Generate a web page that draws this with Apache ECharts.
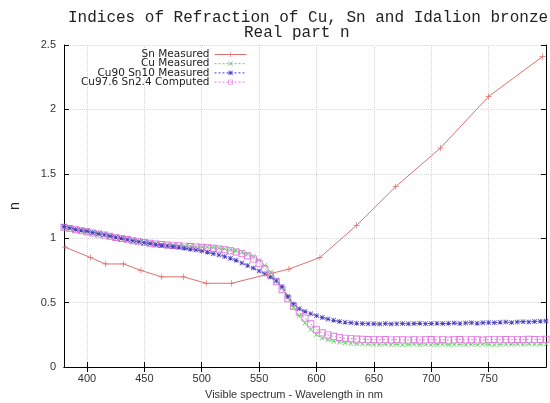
<!DOCTYPE html>
<html><head><meta charset="utf-8">
<script src="https://cdn.jsdelivr.net/npm/echarts@6/dist/echarts.min.js"></script>
<style>html,body{margin:0;padding:0;background:#fff}#c{width:550px;height:403px}</style>
</head><body><div id="c"></div>
<script>
// ---- data ----
const WL = [380,385,390,395,400,405,410,415,420,425,430,435,440,445,450,455,460,465,470,475,
  480,485,490,495,500,505,510,515,520,525,530,535,540,545,550,555,560,565,570,575,
  580,585,590,595,600,605,610,615,620,625,630,635,640,645,650,655,660,665,670,675,
  680,685,690,695,700,705,710,715,720,725,730,735,740,745,750,755,760,765,770,775,
  780,785,790,795,800];
const SN_WL = [381,403,416,432,447,465,484,504,526,576,603,635,669,708,750,797];
const SN_N  = [0.93,0.85,0.80,0.80,0.75,0.70,0.70,0.65,0.65,0.76,0.85,1.10,1.40,1.70,2.10,2.41];
const CU_N = [1.080,1.071,1.063,1.055,1.047,1.039,1.030,1.022,1.013,1.005,0.997,0.988,0.980,0.972,0.966,0.960,0.955,0.951,0.948,0.945,
  0.942,0.940,0.938,0.936,0.934,0.932,0.928,0.923,0.918,0.912,0.903,0.892,0.877,0.857,0.828,0.788,0.738,0.680,0.612,0.538,
  0.462,0.398,0.342,0.292,0.250,0.226,0.210,0.199,0.192,0.187,0.183,0.180,0.178,0.176,0.175,0.174,0.176,0.173,0.175,0.172,
  0.174,0.176,0.173,0.175,0.172,0.174,0.176,0.173,0.175,0.174,0.172,0.175,0.173,0.176,0.174,0.172,0.175,0.177,0.174,0.176,
  0.175,0.178,0.176,0.177,0.178];
const CU90_N = [1.090,1.080,1.070,1.062,1.055,1.045,1.035,1.027,1.018,1.008,1.000,0.990,0.980,0.972,0.965,0.958,0.952,0.946,0.940,0.935,
  0.930,0.922,0.915,0.908,0.900,0.890,0.880,0.870,0.858,0.845,0.828,0.808,0.788,0.768,0.745,0.722,0.698,0.668,0.625,0.550,
  0.490,0.452,0.430,0.413,0.398,0.385,0.372,0.362,0.354,0.348,0.343,0.340,0.338,0.336,0.335,0.334,0.337,0.334,0.336,0.338,
  0.335,0.337,0.339,0.336,0.338,0.340,0.337,0.339,0.341,0.338,0.342,0.344,0.340,0.343,0.346,0.344,0.347,0.349,0.346,0.350,
  0.352,0.350,0.354,0.356,0.358];
const CU976_N = [1.085,1.075,1.066,1.058,1.050,1.041,1.032,1.024,1.015,1.006,0.998,0.989,0.980,0.972,0.966,0.960,0.955,0.951,0.947,0.944,
  0.941,0.938,0.935,0.932,0.929,0.926,0.922,0.917,0.911,0.903,0.893,0.880,0.862,0.838,0.805,0.762,0.715,0.662,0.600,0.530,
  0.472,0.425,0.380,0.335,0.290,0.265,0.249,0.238,0.230,0.224,0.220,0.217,0.215,0.213,0.212,0.211,0.213,0.210,0.212,0.211,
  0.209,0.212,0.210,0.211,0.213,0.210,0.212,0.209,0.211,0.213,0.210,0.212,0.211,0.209,0.212,0.214,0.211,0.213,0.212,0.214,
  0.212,0.215,0.213,0.214,0.215];
const NAMES = ['Sn Measured','Cu Measured','Cu90 Sn10 Measured','Cu97.6 Sn2.4 Computed'];
const X_TICKS = [400,450,500,550,600,650,700,750];

// ---- symbols ----
const PLUS = 'path://M4.4,0H5.6V4.4H10V5.6H5.6V10H4.4V5.6H0V4.4H4.4Z';
const CROSS = 'path://M0,1L1,0L10,9L9,10Z M9,0L10,1L1,10L0,9Z';
const STAR = 'path://M4.4,0H5.6V4.4H10V5.6H5.6V10H4.4V5.6H0V4.4H4.4Z M0,1L1,0L10,9L9,10Z M9,0L10,1L1,10L0,9Z';
const HSQ = 'path://M0,0H10V10H0Z M1.3,1.3V8.7H8.7V1.3Z';

const pairs = (xs, ys) => xs.map((x, i) => [x, ys[i]]);
const C_SN = '#e07070', C_CU = '#66cc66', C_CU90 = '#4a3fc0', C_CU976 = '#e07ae0';

const chart = echarts.init(document.getElementById('c'), null, {renderer: 'canvas'});
const axisBlack = {show: true, lineStyle: {color: '#000', width: 1}};
chart.setOption({
  animation: false,
  backgroundColor: '#fff',
  title: [
    {text: 'Indices of Refraction of Cu, Sn and Idalion bronze', left: 63, top: 5,
     textStyle: {fontFamily: 'Liberation Mono', fontSize: 16, fontWeight: 'normal', color: '#222'}},
    {text: 'Real part n', left: 239, top: 20,
     textStyle: {fontFamily: 'Liberation Mono', fontSize: 16, fontWeight: 'normal', color: '#222'}}
  ],
  legend: NAMES.map((n, i) => ({
    data: [n], align: 'right', right: 303, top: 49 + i * 9.2, orient: 'horizontal',
    itemWidth: 32, itemHeight: 6, padding: 0, itemGap: 0, selectedMode: false,
    lineStyle: {width: 1},
    textStyle: {fontFamily: 'DejaVu Sans', fontSize: 10.5, color: '#222', padding: [0, 0, 0, 0]}
  })),
  grid: {left: 60, right: 4, top: 45, bottom: 36, containLabel: false},
  xAxis: [
    {type: 'value', min: 380, max: 800, splitNumber: 8, position: 'bottom',
     axisLine: axisBlack,
     axisTick: {show: true, inside: true, length: 5, customValues: X_TICKS, lineStyle: {color: '#000'}},
     axisLabel: {customValues: X_TICKS, fontFamily: 'Liberation Sans', fontSize: 11, color: '#333', margin: 6},
     splitLine: {show: true, lineStyle: {color: '#d8d8d8', type: 'dotted', width: 1}}},
    {type: 'value', min: 380, max: 800, splitNumber: 8, position: 'top',
     axisLine: axisBlack,
     axisTick: {show: true, inside: true, length: 5, customValues: X_TICKS, lineStyle: {color: '#000'}},
     axisLabel: {show: false}, splitLine: {show: false}}
  ],
  yAxis: [
    {type: 'value', min: 0, max: 2.5, interval: 0.5, position: 'left',
     name: 'n', nameLocation: 'middle', nameGap: 42, nameRotate: 90,
     nameTextStyle: {fontFamily: 'Liberation Mono', fontSize: 14, color: '#222'},
     axisLine: axisBlack,
     axisTick: {show: true, inside: true, length: 5, lineStyle: {color: '#000'}},
     axisLabel: {fontFamily: 'Liberation Sans', fontSize: 11, color: '#333', margin: 8},
     splitLine: {show: true, lineStyle: {color: '#d8d8d8', type: 'dotted', width: 1}}},
    {type: 'value', min: 0, max: 2.5, interval: 0.5, position: 'right',
     axisLine: axisBlack,
     axisTick: {show: true, inside: true, length: 5, lineStyle: {color: '#000'}},
     axisLabel: {show: false}, splitLine: {show: false}}
  ],
  graphic: [
    {type: 'text', left: 205, top: 389,
     style: {text: 'Visible spectrum - Wavelength in nm', fontFamily: 'Liberation Sans', fontSize: 11, fill: '#333'}}
  ],
  series: [
    {name: NAMES[0], type: 'line', data: pairs(SN_WL, SN_N), symbol: PLUS, symbolSize: 6,
     itemStyle: {color: C_SN}, lineStyle: {color: C_SN, width: 1}, z: 5},
    {name: NAMES[1], type: 'line', data: pairs(WL, CU_N), symbol: CROSS, symbolSize: 5,
     itemStyle: {color: C_CU}, lineStyle: {color: C_CU, width: 1, type: [2, 2]}, z: 2},
    {name: NAMES[2], type: 'line', data: pairs(WL, CU90_N), symbol: STAR, symbolSize: 5,
     itemStyle: {color: C_CU90}, lineStyle: {color: C_CU90, width: 1, type: [2, 2]}, z: 4},
    {name: NAMES[3], type: 'line', data: pairs(WL, CU976_N), symbol: HSQ, symbolSize: 7,
     itemStyle: {color: C_CU976}, lineStyle: {color: C_CU976, width: 1, type: [2, 2]}, z: 3}
  ]
});
</script></body></html>
